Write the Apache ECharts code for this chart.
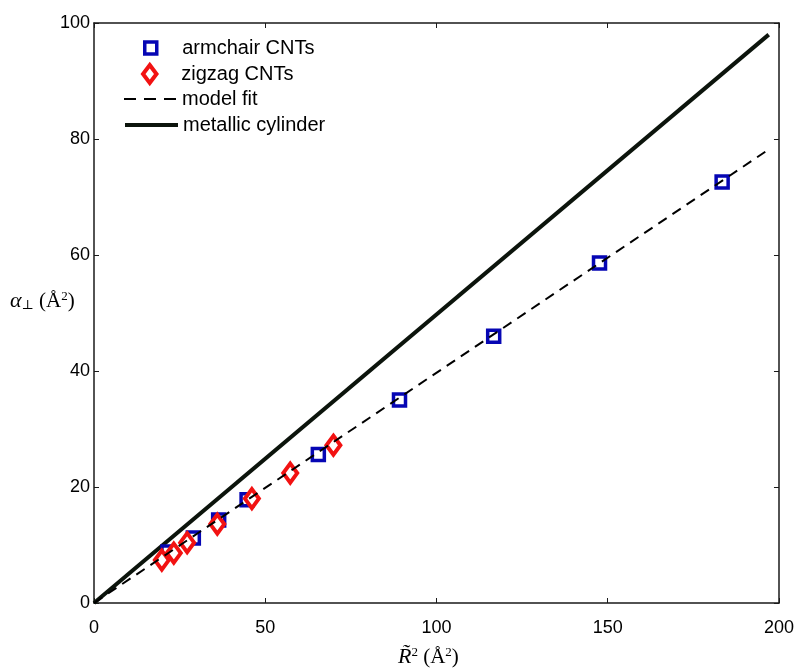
<!DOCTYPE html>
<html><head><meta charset="utf-8">
<script src="https://cdn.jsdelivr.net/npm/echarts@6/dist/echarts.min.js"></script>
<style>html,body{margin:0;padding:0;background:#fff}#c{width:797px;height:669px}</style>
</head><body><div id="c"></div>
<script>
const xTicks = [0, 50, 100, 150, 200];
const yTicks = [0, 20, 40, 60, 80, 100];
const seriesNames = ['armchair CNTs', 'zigzag CNTs', 'model fit', 'metallic cylinder'];
const armchairX = [21.6, 29.0, 36.4, 44.7, 65.5, 89.2, 116.7, 147.6, 183.4];
const armchairY = [8.8, 11.2, 14.3, 17.8, 25.6, 35.0, 46.0, 58.6, 72.6];
const zigzagX = [19.8, 23.3, 27.2, 36.0, 46.1, 57.3, 69.9];
const zigzagY = [7.4, 8.6, 10.4, 13.6, 18.0, 22.4, 27.2];
const fitX = [0, 196];
const fitY = [0, 77.8];
const metalX = [0, 197];
const metalY = [0, 98];

const pair = (xs, ys) => xs.map((x, i) => [x, ys[i]]);
const AX = '#1a1a1a';
const sans = 'Liberation Sans, Arial, sans-serif';
const serif = 'Liberation Serif, DejaVu Serif, serif';
const blue = '#0606b4', red = '#f21212', dark = '#0c140c';

function baseAxis(extra) {
  return Object.assign({
    type: 'value',
    axisLine: { show: true, onZero: false, lineStyle: { color: AX, width: 1.5 } },
    axisTick: { show: true, inside: true, length: 5, lineStyle: { color: AX, width: 1 } },
    splitLine: { show: false },
    axisLabel: { show: true, color: '#000', fontFamily: sans, fontSize: 18 }
  }, extra);
}
const chart = echarts.init(document.getElementById('c'), null, { renderer: 'canvas' });
const legendCommon = { orient: 'vertical', padding: 0, itemWidth: 53, textStyle: { color: '#000', fontFamily: sans, fontSize: 20 }, selectedMode: false };
chart.setOption({
  animation: false,
  backgroundColor: '#fff',
  grid: { left: 94, right: 15, top: 23, bottom: 66, show: false },
  xAxis: [
    baseAxis({ min: xTicks[0], max: xTicks[xTicks.length - 1], interval: xTicks[1] - xTicks[0], position: 'bottom', axisLabel: { color: '#000', fontFamily: sans, fontSize: 18, margin: 16 } }),
    baseAxis({ min: xTicks[0], max: xTicks[xTicks.length - 1], interval: xTicks[1] - xTicks[0], position: 'top', axisLabel: { show: false } })
  ],
  yAxis: [
    baseAxis({ min: yTicks[0], max: yTicks[yTicks.length - 1], interval: yTicks[1] - yTicks[0], position: 'left', axisLabel: { color: '#000', fontFamily: sans, fontSize: 18, margin: 4 } }),
    baseAxis({ min: yTicks[0], max: yTicks[yTicks.length - 1], interval: yTicks[1] - yTicks[0], position: 'right', axisLabel: { show: false } })
  ],
  legend: [
    Object.assign({}, legendCommon, { left: 143, top: 38, data: [{ name: seriesNames[0], icon: 'path://M0,0H10V10H0Z', itemStyle: { color: '#fff', borderColor: blue, borderWidth: 3.5 } }], itemHeight: 12 }),
    Object.assign({}, legendCommon, { left: 141, top: 63, data: [{ name: seriesNames[1], icon: 'path://M0,-10L7.5,0L0,10L-7.5,0Z', itemStyle: { color: '#fff', borderColor: red, borderWidth: 4 } }], itemHeight: 18 }),
    Object.assign({}, legendCommon, { left: 123, top: 89, data: [{ name: seriesNames[2], itemStyle: { opacity: 0 }, lineStyle: { color: '#000', width: 2, type: [12, 8] } }], itemHeight: 12 }),
    Object.assign({}, legendCommon, { left: 123, top: 115, data: [{ name: seriesNames[3], itemStyle: { opacity: 0 }, lineStyle: { color: dark, width: 4 } }], itemHeight: 12 })
  ],
  graphic: [
    { type: 'text', left: 10, top: 290, style: { text: '{a|α}{s|⊥} (Å{p|2})', font: '21px ' + serif, fill: '#000', rich: { a: { fontFamily: serif, fontSize: 22, fontStyle: 'italic' }, s: { fontFamily: serif, fontSize: 13, verticalAlign: 'bottom', padding: [9, 0, 0, 0] }, p: { fontFamily: serif, fontSize: 13, verticalAlign: 'top', padding: [0, 0, 9, 0] } } } },
    { type: 'text', left: 398, top: 646, style: { text: '{r|R\u0303}{p|2} (Å{p|2})', font: '21px ' + serif, fill: '#000', rich: { r: { fontFamily: serif, fontSize: 22, fontStyle: 'italic' }, p: { fontFamily: serif, fontSize: 13, verticalAlign: 'top', padding: [0, 0, 9, 0] } } } }
  ],
  series: [
    { name: seriesNames[0], type: 'scatter', data: pair(armchairX, armchairY), symbol: 'rect', symbolSize: 12, z: 5,
      itemStyle: { color: '#fff', borderColor: blue, borderWidth: 3.5, opacity: 1 } },
    { name: seriesNames[1], type: 'scatter', data: pair(zigzagX, zigzagY), symbol: 'diamond', symbolSize: [14, 19], z: 6,
      itemStyle: { color: '#fff', borderColor: red, borderWidth: 4, opacity: 1 } },
    { name: seriesNames[2], type: 'line', data: pair(fitX, fitY), symbol: 'none', showSymbol: false, z: 7,
      lineStyle: { color: '#000', width: 2, type: [10, 7] }, itemStyle: { color: '#000' } },
    { name: seriesNames[3], type: 'line', data: pair(metalX, metalY), symbol: 'none', showSymbol: false, z: 4,
      lineStyle: { color: dark, width: 4 }, itemStyle: { color: dark } }
  ]
});
</script></body></html>
